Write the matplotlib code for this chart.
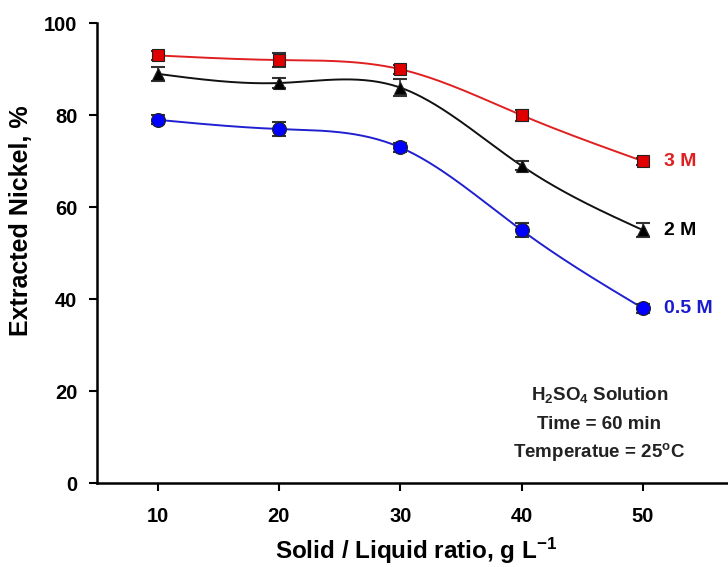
import numpy as np
import matplotlib
matplotlib.use("Agg")
import matplotlib.pyplot as plt

plt.rcParams['font.family'] = ['Liberation Sans', 'DejaVu Sans']
plt.rcParams['font.weight'] = 'bold'
plt.rcParams['mathtext.fontset'] = 'custom'
plt.rcParams['mathtext.rm'] = 'Liberation Sans:bold'
plt.rcParams['mathtext.bf'] = 'Liberation Sans:bold'
plt.rcParams['mathtext.it'] = 'Liberation Sans:bold'
plt.rcParams['mathtext.default'] = 'bf'

ratio = [10, 20, 30, 40, 50]
m3 = [93, 92, 90, 80, 70]
m3_err = [1.0, 1.5, 1.0, 1.2, 0.8]
m2 = [89, 87, 86, 69, 55]
m2_err = [1.5, 1.0, 1.8, 1.0, 1.5]
m05 = [79, 77, 73, 55, 38]
m05_err = [1.0, 1.5, 1.0, 1.5, 1.0]
labels = ["3 M", "2 M", "0.5 M"]
note_lines = ['H$_{2}$SO$_{4}$ Solution', 'Time = 60 min', 'Temperatue = 25$^{o}$C']


def natural_spline(x, y, n=200):
    x = np.asarray(x, float)
    y = np.asarray(y, float)
    k = len(x)
    h = np.diff(x)
    A = np.zeros((k, k))
    b = np.zeros(k)
    A[0, 0] = A[-1, -1] = 1
    for i in range(1, k - 1):
        A[i, i - 1] = h[i - 1]
        A[i, i] = 2 * (h[i - 1] + h[i])
        A[i, i + 1] = h[i]
        b[i] = 3 * ((y[i + 1] - y[i]) / h[i] - (y[i] - y[i - 1]) / h[i - 1])
    c = np.linalg.solve(A, b)
    xs = np.linspace(x[0], x[-1], n)
    ys = np.empty_like(xs)
    for j, xv in enumerate(xs):
        i = min(np.searchsorted(x, xv, side='right') - 1, k - 2)
        dx = xv - x[i]
        bi = (y[i + 1] - y[i]) / h[i] - h[i] * (2 * c[i] + c[i + 1]) / 3
        di = (c[i + 1] - c[i]) / (3 * h[i])
        ys[j] = y[i] + bi * dx + c[i] * dx ** 2 + di * dx ** 3
    return xs, ys


fig = plt.figure(figsize=(7.28, 5.67), dpi=100)
ax = fig.add_axes([0.133, 0.148, 0.867, 0.811])

series = [
    (m3, m3_err, '#e02020', '#e00000', 's', 8, labels[0], '#e02020'),
    (m2, m2_err, '#111111', '#000000', '^', 9, labels[1], 'black'),
    (m05, m05_err, '#2020d0', '#0000ff', 'o', 10, labels[2], '#1a1ad0'),
]
for vals, err, lc, fc, mk, ms, lab, tc in series:
    xs, ys = natural_spline(ratio, vals)
    ax.plot(xs, ys, color=lc, lw=1.4, zorder=2)
    ax.errorbar(ratio, vals, yerr=err, fmt='none', ecolor='#333333',
                elinewidth=1.2, capsize=5, capthick=1.5, zorder=3)
    ax.plot(ratio, vals, linestyle='none', marker=mk, markersize=ms,
            markerfacecolor=fc, markeredgecolor='#222222', markeredgewidth=0.8,
            zorder=4)
    ax.text(ratio[-1] + 1.7, vals[-1], lab, color=tc,
            fontsize=14, fontweight='bold', va='center', ha='left')

ax.set_xlim(5, 57)
ax.set_ylim(0, 100)
ax.set_xticks([10, 20, 30, 40, 50])
ax.set_yticks([0, 20, 40, 60, 80, 100])
ax.spines['top'].set_visible(False)
ax.spines['right'].set_visible(False)
ax.spines['left'].set_linewidth(1.8)
ax.spines['bottom'].set_linewidth(1.8)
ax.tick_params(direction='out', length=6, width=1.5, labelsize=14.5)
ax.tick_params(axis='y', pad=8)
ax.tick_params(axis='x', pad=11)
for t in ax.get_xticklabels() + ax.get_yticklabels():
    t.set_fontweight('bold')

ax.set_xlabel('Solid / Liquid ratio, g L$^{-1}$', fontsize=17.5, fontweight='bold')
ax.xaxis.set_label_coords(0.506, -0.115)
ax.set_ylabel('Extracted Nickel, %', fontsize=18, fontweight='bold')
ax.yaxis.set_label_coords(-0.101, 0.57)

for yv, line in zip([19.1, 12.8, 6.7], note_lines):
    ax.text(46.4, yv, line, fontsize=13.5, fontweight='bold', ha='center',
            va='center', color='#222222')

fig.savefig('out.png', dpi=100)
